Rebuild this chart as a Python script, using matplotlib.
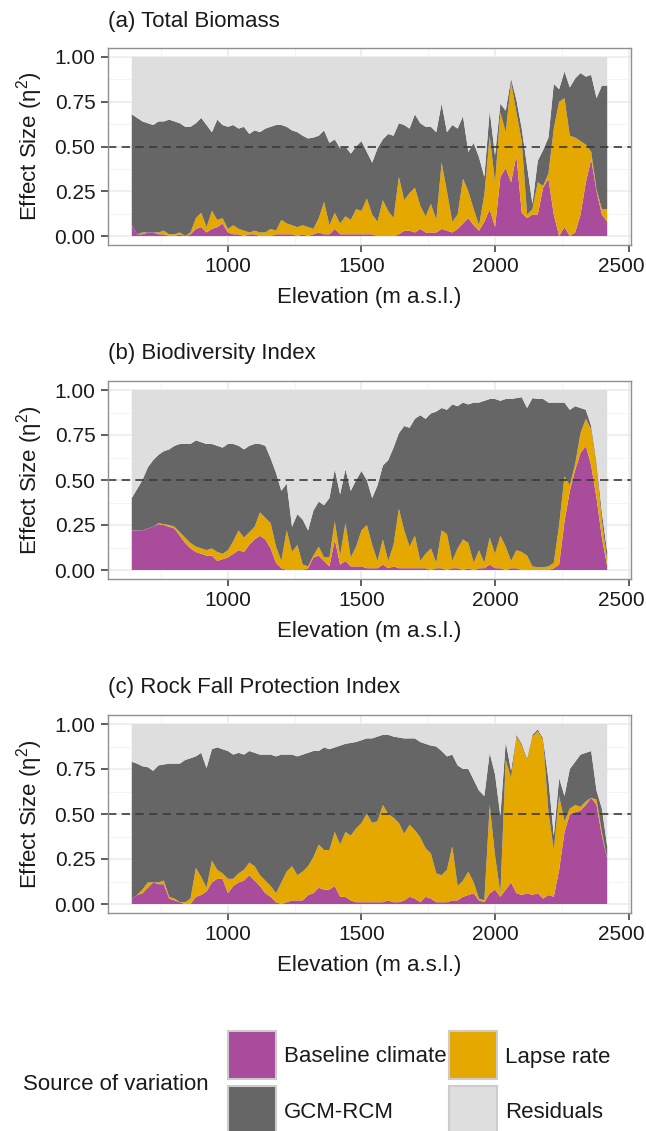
import numpy as np
import matplotlib
matplotlib.use("Agg")
import matplotlib.pyplot as plt
from matplotlib.patches import Rectangle
from matplotlib.ticker import FixedLocator
from matplotlib.transforms import ScaledTranslation

plt.rcParams['font.family'] = ['Liberation Sans', 'DejaVu Sans']
plt.rcParams['mathtext.fontset'] = 'custom'
plt.rcParams['mathtext.rm'] = 'Liberation Sans'
plt.rcParams['mathtext.it'] = 'Liberation Sans'

# ---------------------------------------------------------------- data
elevation = np.arange(640, 2421, 20)  # m a.s.l.

sources = ["Baseline climate", "Lapse rate", "GCM-RCM", "Residuals"]

# (a) Total Biomass -- effect sizes per source of variation
a_baseline = [
    .06, .01, .01, .02, .02, .01, .01, .00, .00, .01, .00, .01, .04, .05, .02, .04, .05, .07, .02,
    .01, .01, .00, .01, .01, .00, .00, .00, .01, .01, .01, .01, .00, .01, .00, .01, .02, .01, .01,
    .04, .01, .01, .01, .01, .01,
    .01, .01, .00, .00, .00, .00, .01, .03, .03, .02, .04, .02, .02, .02, .04, .03, .02, .04, .07,
    .10, .06, .03, .08, .15, .05,
    .33, .38, .30, .45, .13, .10, .12, .12, .27, .32, .12, .00, .05, .00, .02, .12, .30, .43, .25,
    .12, .08]
a_lapse = [
    .00, .00, .01, .00, .00, .01, .02, .01, .01, .01, .00, .01, .06, .08, .03, .10, .04, .03, .02,
    .05, .03, .03, .01, .02, .02, .02, .04, .02, .08, .06, .05, .05, .05, .05, .03, .08, .18, .05,
    .09, .06, .10, .08, .14, .13,
    .20, .11, .08, .20, .14, .10, .32, .17, .21, .25, .13, .09, .16, .07, .37, .22, .06, .08, .25,
    .15, .09, .03, .15, .41, .25,
    .36, .20, .56, .24, .40, .02, .03, .18, .01, .03, .48, .75, .72, .56, .53, .41, .21, .04, .01,
    .03, .07]
a_gcm = [
    .62, .65, .62, .61, .60, .62, .61, .64, .63, .61, .61, .59, .53, .53, .57, .44, .56, .52, .57,
    .56, .56, .58, .55, .56, .56, .58, .57, .59, .53, .54, .53, .53, .50, .495, .51, .46, .40, .46,
    .41, .42, .39, .37, .35, .39,
    .26, .29, .41, .34, .43, .46, .30, .42, .36, .41, .46, .50, .43, .49, .33, .33, .54, .48, .35,
    .22, .37, .38, .10, .14, .15,
    .05, .12, .02, .07, .07, .27, .03, .12, .20, .20, .25, .07, .15, .27, .33, .38, .38, .43, .51,
    .69, .69]

# (b) Biodiversity Index
b_baseline = [
    .22, .22, .22, .23, .24, .255, .25, .24, .23, .19, .15, .12, .10, .09, .08, .08, .05, .06, .07,
    .09, .11, .10, .14, .17, .19, .17, .12, .04, .01, .00, .00, .00, .00, .01, .07, .08, .05, .02,
    .17, .03, .05, .02, .02, .02,
    .01, .01, .01, .03, .01, .02, .01, .01, .01, .01, .01, .01, .00, .01, .01, .00, .01, .01, .00,
    .01, .00, .01, .01, .03, .01,
    .01, .00, .01, .01, .00, .00, .00, .00, .00, .00, .01, .03, .27, .44, .555, .65, .69, .58, .40,
    .18, .02]
b_lapse = [
    .00, .00, .00, .00, .00, .005, .005, .01, .01, .02, .03, .03, .03, .03, .03, .04, .05, .03, .04,
    .07, .11, .08, .07, .07, .13, .12, .14, .09, .04, .22, .10, .14, .03, .01, .01, .05, .02, .05,
    .10, .05, .21, .05, .11, .20,
    .24, .13, .04, .14, .04, .12, .33, .21, .12, .18, .04, .08, .12, .03, .21, .20, .04, .11, .17,
    .14, .04, .10, .03, .15, .08,
    .18, .13, .04, .10, .10, .08, .02, .015, .015, .02, .03, .22, .25, .03, .035, .11, .15, .20, .18,
    .09, .03]
b_gcm = [
    .18, .23, .28, .34, .37, .38, .405, .42, .45, .49, .52, .55, .59, .59, .59, .58, .59, .59, .59,
    .54, .47, .49, .48, .46, .38, .40, .36, .41, .39, .26, .14, .17, .25, .20, .25, .25, .29, .33,
    .29, .34, .30, .37, .37, .33,
    .25, .26, .42, .41, .56, .54, .42, .58, .66, .65, .81, .75, .75, .84, .68, .69, .87, .79, .76,
    .77, .89, .82, .90, .77, .86,
    .75, .82, .90, .845, .86, .82, .935, .935, .935, .91, .89, .68, .41, .42, .32, .14, .05, .02, .02,
    .05, .05]

# (c) Rock Fall Protection Index
c_baseline = [
    .03, .05, .06, .09, .12, .11, .11, .03, .02, .01, .00, .00, .04, .05, .07, .12, .14, .14, .06,
    .10, .12, .13, .16, .13, .10, .06, .04, .01, .00, .01, .02, .02, .02, .05, .06, .09, .08, .08,
    .10, .04, .04, .02, .01, .01,
    .01, .01, .01, .01, .02, .01, .01, .02, .04, .03, .01, .04, .03, .01, .01, .01, .02, .02, .04,
    .05, .06, .02, .01, .06, .08,
    .04, .08, .12, .06, .05, .06, .05, .06, .03, .05, .04, .19, .40, .50, .51, .52, .55, .59, .55,
    .38, .25]
c_lapse = [
    .00, .00, .02, .03, .00, .01, .02, .01, .01, .00, .01, .03, .16, .10, .02, .12, .05, .03, .08,
    .04, .05, .06, .07, .08, .06, .07, .06, .05, .12, .17, .19, .14, .16, .16, .20, .24, .22, .22,
    .30, .29, .36, .36, .41, .44,
    .49, .44, .45, .54, .48, .47, .44, .37, .40, .38, .36, .27, .25, .16, .15, .18, .30, .08, .09,
    .13, .06, .01, .01, .49, .19,
    .02, .72, .58, .87, .83, .74, .88, .90, .88, .46, .26, .41, .06, .03, .04, .02, .02, .00, .03,
    .02, .00]
c_gcm = [
    .76, .73, .685, .64, .62, .65, .645, .74, .75, .77, .79, .78, .62, .69, .665, .62, .68, .69, .71,
    .69, .67, .64, .62, .63, .67, .70, .73, .76, .71, .65, .62, .66, .65, .63, .59, .52, .57, .56,
    .47, .55, .49, .515, .48, .46,
    .42, .47, .47, .39, .44, .45, .475, .53, .48, .51, .53, .58, .60, .705, .69, .63, .51, .67, .62,
    .57, .57, .60, .58, .29, .45,
    .43, .10, .04, .01, .01, .01, .01, .01, .01, .18, .08, .10, .14, .22, .24, .29, .27, .26, .05,
    .13, .07]

panels = [
    ("(a) Total Biomass", a_baseline, a_lapse, a_gcm),
    ("(b) Biodiversity Index", b_baseline, b_lapse, b_gcm),
    ("(c) Rock Fall Protection Index", c_baseline, c_lapse, c_gcm),
]

colors = {"Baseline climate": "#A94C9C", "Lapse rate": "#E5A800",
          "GCM-RCM": "#666666", "Residuals": "#DEDEDE"}

# ---------------------------------------------------------------- layout
W, H = 646, 1131
fig = plt.figure(figsize=(W / 100, H / 100), dpi=100)
fig.patch.set_facecolor("white")


def axes_px(left, top, right, bottom):
    return fig.add_axes([left / W, 1 - bottom / H, (right - left) / W, (bottom - top) / H])


boxes = [(108, 48, 631, 245), (108, 381, 631, 579), (108, 715, 631, 913)]
x_pad = 0.05 * (elevation[-1] - elevation[0])
# keep the last x tick label inside the right edge of the figure
edge_shift = ScaledTranslation(-7 / 100, 0, fig.dpi_scale_trans)

for (title, base, lapse, gcm), box in zip(panels, boxes):
    ax = axes_px(*box)
    base = np.asarray(base)
    lapse = np.asarray(lapse)
    gcm = np.asarray(gcm)
    resid = np.clip(1 - (base + lapse + gcm), 0, None)

    ax.stackplot(elevation, base, lapse, gcm, resid,
                 colors=[colors[s] for s in sources], linewidth=0, zorder=2)
    ax.axhline(0.5, color="#3a3a3a", lw=1.2, ls=(0, (5, 3.2)), zorder=3)

    ax.set_xlim(elevation[0] - x_pad, elevation[-1] + x_pad)
    ax.set_ylim(-0.05, 1.05)
    ax.xaxis.set_major_locator(FixedLocator([1000, 1500, 2000, 2500]))
    ax.xaxis.set_minor_locator(FixedLocator([750, 1250, 1750, 2250]))
    ax.yaxis.set_major_locator(FixedLocator([0, 0.25, 0.5, 0.75, 1.0]))
    ax.yaxis.set_minor_locator(FixedLocator([0.125, 0.375, 0.625, 0.875]))
    ax.set_yticklabels(["0.00", "0.25", "0.50", "0.75", "1.00"])

    ax.set_axisbelow(True)
    ax.grid(which="major", color="#ebebeb", lw=1.1, zorder=0)
    ax.grid(which="minor", color="#f4f4f4", lw=0.7, zorder=0)
    for sp in ax.spines.values():
        sp.set_color("#8f8f8f")
        sp.set_linewidth(1.0)
        sp.set_zorder(4)
    ax.tick_params(which="major", length=5, width=1.1, color="#333333",
                   labelsize=15, labelcolor="#1a1a1a", pad=4)
    ax.tick_params(which="minor", length=0)

    last = ax.xaxis.get_major_ticks()[-1].label1
    last.set_transform(last.get_transform() + edge_shift)

    hbox = box[3] - box[1]
    ax.text(0, 1 + 27 / hbox, title, transform=ax.transAxes, ha="left",
            va="center", fontsize=16, color="#1a1a1a")
    ax.text(0.5, -53 / hbox, "Elevation (m a.s.l.)", transform=ax.transAxes,
            ha="center", va="center", fontsize=16, color="#1a1a1a")
    ax.text((30 - box[0]) / (box[2] - box[0]), 0.5,
            r"Effect Size ($\mathregular{\eta^{2}}$)", transform=ax.transAxes,
            ha="center", va="center", rotation=90, fontsize=16, color="#1a1a1a")

# ---------------------------------------------------------------- legend
lg = fig.add_axes([0, 0, 1, 1], zorder=-1)
lg.set_xlim(0, W)
lg.set_ylim(H, 0)
lg.axis("off")

lg.text(23, 1085, "Source of variation", ha="left", va="center", fontsize=16, color="#1a1a1a")
key_pos = {"Baseline climate": (228, 1031), "Lapse rate": (449, 1031),
           "GCM-RCM": (228, 1086), "Residuals": (449, 1086)}
for name, (kx, ky) in key_pos.items():
    lg.add_patch(Rectangle((kx, ky), 48, 48, facecolor=colors[name],
                           edgecolor="#cccccc", linewidth=1.5, clip_on=False))
    lg.text(kx + 56, ky + 26, name, ha="left", va="center", fontsize=16, color="#1a1a1a")

fig.savefig("out.png", dpi=100)
